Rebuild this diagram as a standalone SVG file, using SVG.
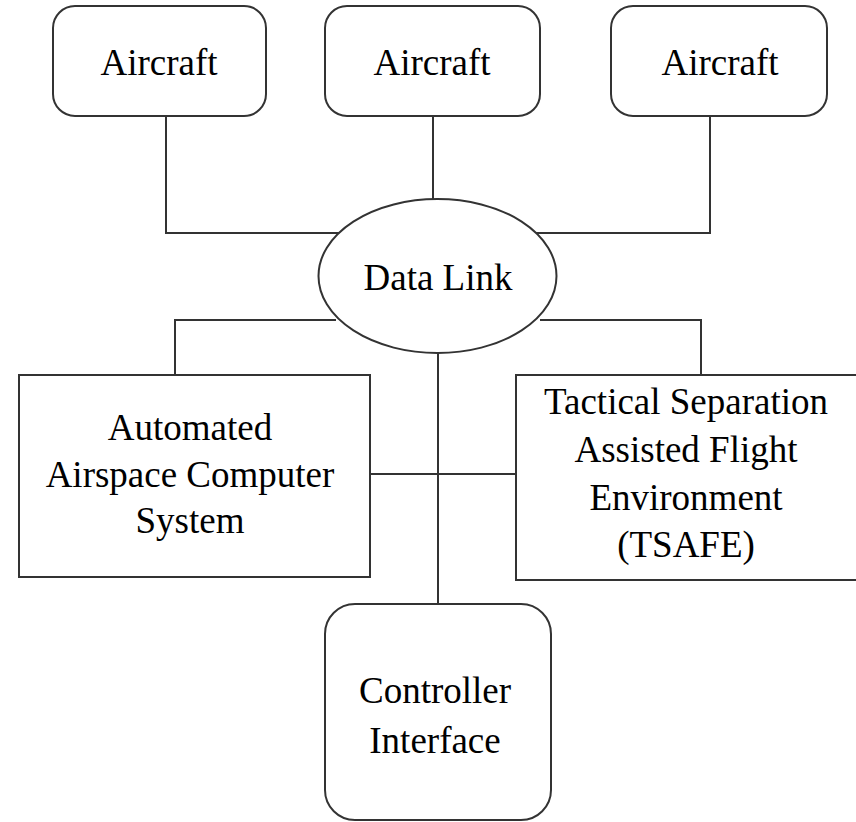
<svg xmlns="http://www.w3.org/2000/svg" width="856" height="822" viewBox="0 0 856 822">
<style>
.box{fill:#fff;stroke:#333;stroke-width:2}
.ln{fill:none;stroke:#333;stroke-width:2}
text{font-family:"Liberation Serif","Times New Roman",serif;font-size:37px;fill:#000;text-anchor:middle}
</style>
<rect width="856" height="822" fill="#fff"/>
<g id="connectors">
<polyline class="ln" points="166,116 166,233 340,233"/>
<line class="ln" x1="433" y1="116" x2="433" y2="199"/>
<polyline class="ln" points="710,116 710,233 536,233"/>
<polyline class="ln" points="336,320 175,320 175,375"/>
<polyline class="ln" points="540,320 701,320 701,375"/>
<line class="ln" x1="438" y1="353" x2="438" y2="604"/>
<line class="ln" x1="370" y1="474" x2="516" y2="474"/>
</g>
<g id="aircraft1">
<rect class="box" x="53" y="6" width="213" height="110" rx="22"/>
<text x="159" y="75">Aircraft</text>
</g>
<g id="aircraft2">
<rect class="box" x="325" y="6" width="215" height="110" rx="22"/>
<text x="432" y="75">Aircraft</text>
</g>
<g id="aircraft3">
<rect class="box" x="611" y="6" width="216" height="110" rx="22"/>
<text x="720" y="75">Aircraft</text>
</g>
<g id="datalink">
<ellipse class="box" cx="437.5" cy="276" rx="119" ry="77"/>
<text x="438" y="290">Data Link</text>
</g>
<g id="aacs">
<rect class="box" x="19" y="375" width="351" height="202"/>
<text x="190" y="440">Automated</text>
<text x="190" y="487">Airspace Computer</text>
<text x="190" y="533">System</text>
</g>
<g id="tsafe">
<rect class="box" x="516" y="375" width="345" height="205"/>
<text x="686" y="414">Tactical Separation</text>
<text x="686" y="462">Assisted Flight</text>
<text x="686" y="510">Environment</text>
<text x="686" y="557">(TSAFE)</text>
</g>
<g id="controller">
<rect class="box" x="325" y="604" width="226" height="216" rx="30"/>
<text x="435" y="703">Controller</text>
<text x="435" y="753">Interface</text>
</g>
</svg>
